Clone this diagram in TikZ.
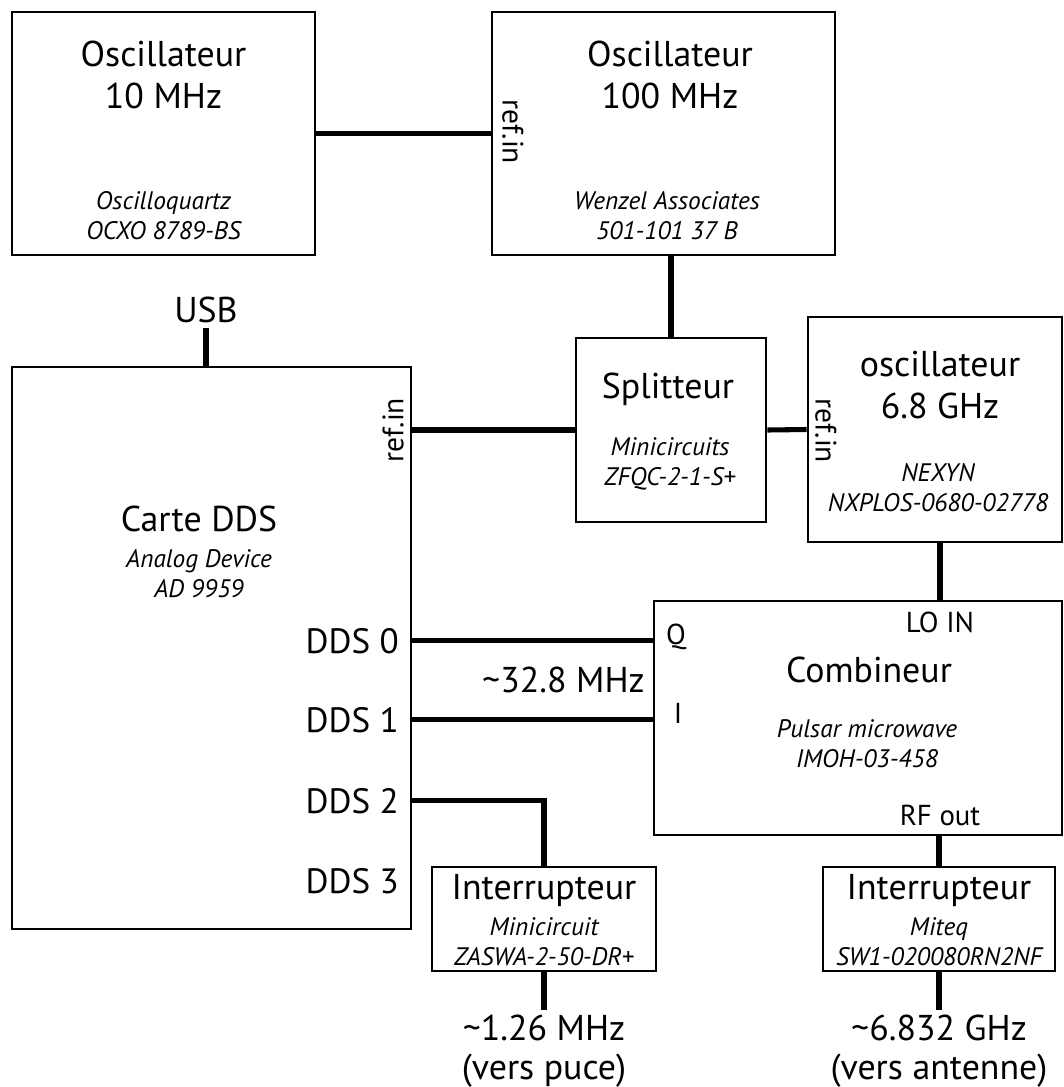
\documentclass[tikz,border=0pt]{standalone}
\usepackage{fontspec}
\setmainfont{PT Sans}
\usepackage{tikz}

\begin{document}
\begin{tikzpicture}[x=0.025cm, y=-0.025cm,
    bloc/.style={draw, line width=1.8pt, inner sep=0pt},
    fil/.style={line width=3.6pt},
    titre/.style={font=\fontsize{25.5}{30}\selectfont, align=center},
    sortie/.style={font=\fontsize{25.5}{27.5}\selectfont, align=center},
    modele/.style={font=\fontsize{18}{21.5}\selectfont\itshape, align=center},
    borne/.style={font=\fontsize{25}{30}\selectfont, inner sep=0pt},
    petit/.style={font=\fontsize{20.5}{24}\selectfont},
    refin/.style={font=\fontsize{21}{24}\selectfont}]
    \useasboundingbox (0,0) rectangle (1064,1087);

    % 1. Les blocs
    \node[bloc, minimum width=7.575cm, minimum height=6.075cm] (osc10) at (163.5,133.5) {};
    \node[bloc, minimum width=8.575cm, minimum height=6.075cm] (osc100) at (663.5,133.5) {};
    \node[bloc, minimum width=9.975cm, minimum height=14.05cm] (dds) at (211.5,648) {};
    \node[bloc, minimum width=4.75cm, minimum height=4.6cm] (split) at (671,430) {};
    \node[bloc, minimum width=6.35cm, minimum height=5.625cm] (osc68) at (935,429.5) {};
    \node[bloc, minimum width=10.2cm, minimum height=5.85cm] (comb) at (858,718) {};
    \node[bloc, minimum width=5.6cm, minimum height=2.6cm] (sw1) at (544,919) {};
    \node[bloc, minimum width=5.8cm, minimum height=2.6cm] (sw2) at (939,919) {};

    % 2. Noms et references
    \node[titre] (t10) at (163.5,75) {Oscillateur\\10 MHz};
    \node[modele] (m10) at (163.5,216) {Oscilloquartz\\OCXO 8789-BS};
    \node[titre] (t100) at (670,75) {Oscillateur\\100 MHz};
    \node[modele] (m100) at (667,216) {Wenzel Associates\\501-101 37 B};
    \node[titre] (tdds) at (199,519) {Carte DDS};
    \node[modele] (mdds) at (199,574) {Analog Device\\AD 9959};
    \node[titre] (tsplit) at (668,389) {Splitteur};
    \node[modele] (msplit) at (670,464) {Minicircuits\\ZFQC-2-1-S+};
    \node[titre] (t68) at (940,385) {oscillateur\\6.8 GHz};
    \node[modele] (m68) at (938,488) {NEXYN\\NXPLOS-0680-02778};
    \node[titre] (tcomb) at (869,670) {Combineur};
    \node[modele] (mcomb) at (867,744) {Pulsar microwave\\IMOH-03-458};
    \node[titre] (tsw1) at (544,891) {Interrupteur};
    \node[modele] (msw1) at (544,942) {Minicircuit\\ZASWA-2-50-DR+};
    \node[titre] (tsw2) at (939,891) {Interrupteur};
    \node[modele] (msw2) at (939,942) {Miteq\\SW1-020080RN2NF};

    % 3. Entrees et sorties
    \node[refin, rotate=-90] (r100) at (513,132) {ref.in};
    \node[refin, rotate=90] (rdds) at (393,430) {ref.in};
    \node[refin, rotate=-90] (r68) at (826,431) {ref.in};
    \node[titre] (usb) at (206,310) {USB};
    \node[borne, anchor=base east] (p0) at (399,653) {DDS 0};
    \node[borne, anchor=base east] (p1) at (399,732) {DDS 1};
    \node[borne, anchor=base east] (p2) at (399,813) {DDS 2};
    \node[borne, anchor=base east] (p3) at (399,893) {DDS 3};
    \node[titre, anchor=east, inner sep=0pt] (f32) at (645,680) {\textasciitilde32.8 MHz};
    \node[petit] (q) at (676,637) {Q};
    \node[petit] (i) at (678,713) {I};
    \node[petit] (loin) at (940,622) {LO IN};
    \node[petit] (rfout) at (940,815) {RF out};
    \node[sortie] (f1) at (544,1051) {\textasciitilde1.26 MHz\\(vers puce)};
    \node[sortie] (f2) at (939,1051) {\textasciitilde6.832 GHz\\(vers antenne)};

    % 4. Liaisons
    \draw[fil] (osc10.east) -- (osc100.west);
    \draw[fil] (split.north) -- (split.north |- osc100.south);
    \draw[fil] (usb.south) -- (usb.south |- dds.north);
    \draw[fil] (split.west) -- (split.west -| dds.east);
    \draw[fil] (split.east) -- (osc68.west);
    \draw[fil] (loin.north |- osc68.south) -- (loin.north |- comb.north);
    \draw[fil] (p0.east -| dds.east) -- (p0.east -| comb.west);
    \draw[fil] (p1.east -| dds.east) -- (p1.east -| comb.west);
    \draw[fil] (p2.east -| dds.east) -| (sw1.north);
    \draw[fil] (sw2.north) -- (sw2.north |- comb.south);
    \draw[fil] (sw1.south) -- (f1.north);
    \draw[fil] (sw2.south) -- (f2.north);
\end{tikzpicture}
\end{document}
